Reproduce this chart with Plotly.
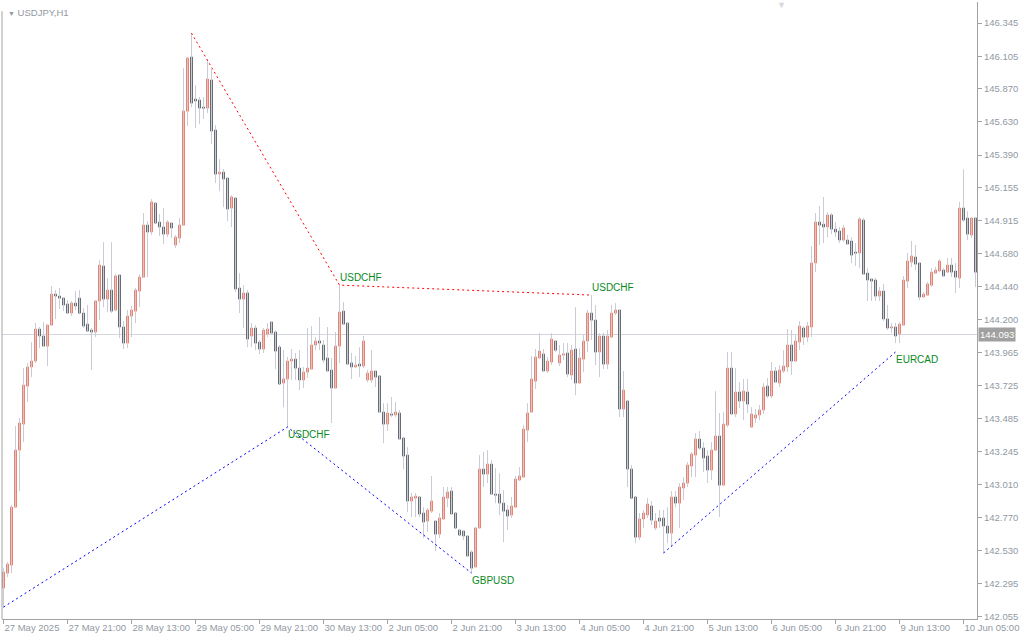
import plotly.graph_objects as go

symbol_title = "USDJPY,H1"

tick_bars = [0, 16, 32, 48, 64, 80, 96, 112, 128, 144, 160, 176, 192, 208, 224, 240]
tick_labels = ["27 May 2025", "27 May 21:00", "28 May 13:00", "29 May 05:00", "29 May 21:00",
               "30 May 13:00", "2 Jun 05:00", "2 Jun 21:00", "3 Jun 13:00", "4 Jun 05:00",
               "4 Jun 21:00", "5 Jun 13:00", "6 Jun 05:00", "6 Jun 21:00", "9 Jun 13:00",
               "10 Jun 05:00"]

price_ticks = [146.345, 146.105, 145.870, 145.630, 145.390, 145.155, 144.915, 144.680, 144.440,
               144.200, 143.965, 143.725, 143.485, 143.245, 143.010, 142.770, 142.530, 142.295,
               142.055]

bid_price = 144.093

open_ = [
    142.260, 142.368, 142.426, 142.845, 143.257, 143.445, 143.720, 143.858, 143.901, 144.132,
    144.082, 144.009, 144.161, 144.385, 144.371, 144.356, 144.313, 144.248, 144.320, 144.356,
    144.248, 144.168, 144.125, 144.111, 144.335, 144.588, 144.349, 144.414, 144.270, 144.523,
    144.147, 144.031, 144.226, 144.262, 144.407, 144.508, 144.884, 144.834, 145.043, 144.906,
    144.870, 144.819, 144.899, 144.740, 144.790, 144.884, 145.708, 146.099, 145.795, 145.788,
    145.737, 145.730, 145.933, 145.571, 145.253, 145.267, 145.224, 145.007, 145.079, 144.429,
    144.349, 144.393, 144.082, 144.140, 144.038, 143.988, 144.096, 144.183, 144.111, 144.002,
    143.742, 143.771, 143.901, 143.915, 143.850, 143.764, 143.821, 143.843, 144.017, 144.046,
    144.017, 143.923, 143.836, 143.706, 144.009, 144.262, 144.176, 143.887, 143.858, 143.879,
    143.865, 143.764, 143.764, 143.829, 143.793, 143.532, 143.445, 143.518, 143.511, 143.525,
    143.344, 143.221, 142.889, 142.910, 142.918, 142.802, 142.744, 142.816, 142.744, 142.650,
    142.759, 142.910, 142.961, 142.802, 142.679, 142.672, 142.636, 142.520, 142.412, 142.694,
    143.120, 143.084, 143.156, 142.939, 142.939, 142.874, 142.824, 142.788, 142.845, 143.041,
    143.062, 143.402, 143.532, 143.756, 143.923, 143.952, 143.829, 143.894, 144.046, 143.887,
    143.944, 143.959, 143.800, 143.988, 143.742, 143.915, 144.046, 144.248, 144.197, 143.966,
    144.082, 143.879, 144.074, 144.248, 144.270, 143.554, 143.612, 143.120, 142.918, 142.628,
    142.759, 142.788, 142.853, 142.694, 142.766, 142.766, 142.708, 142.657, 142.918, 142.874,
    142.983, 143.019, 143.142, 143.221, 143.337, 143.272, 143.214, 143.113, 143.257, 143.359,
    143.004, 143.438, 143.850, 143.518, 143.677, 143.612, 143.677, 143.424, 143.489, 143.511,
    143.547, 143.720, 143.648, 143.829, 143.742, 143.829, 143.858, 144.017, 143.901, 144.038,
    144.140, 144.074, 144.147, 144.610, 144.906, 144.891, 144.870, 144.957, 144.855, 144.841,
    144.776, 144.776, 144.769, 144.689, 144.682, 144.920, 144.537, 144.494, 144.487, 144.371,
    144.407, 144.205, 144.140, 144.147, 144.096, 144.161, 144.479, 144.617, 144.653, 144.610,
    144.364, 144.378, 144.450, 144.537, 144.552, 144.559, 144.544, 144.595, 144.552, 144.501,
    145.007, 144.935, 144.812, 144.935,
]

high = [
    142.404, 142.448, 142.860, 143.431, 143.489, 143.850, 143.887, 144.038, 144.176, 144.147,
    144.183, 144.168, 144.443, 144.414, 144.429, 144.356, 144.342, 144.335, 144.407, 144.414,
    144.284, 144.306, 144.140, 144.342, 144.631, 144.761, 144.501, 144.761, 144.530, 144.530,
    144.190, 144.270, 144.299, 144.429, 144.530, 144.971, 144.913, 145.072, 145.051, 144.964,
    145.007, 144.920, 144.906, 144.812, 144.935, 146.019, 146.099, 146.272, 145.896, 145.810,
    145.810, 146.084, 146.012, 145.607, 145.361, 145.289, 145.231, 145.101, 145.079, 144.537,
    144.450, 144.414, 144.176, 144.161, 144.053, 144.140, 144.176, 144.190, 144.125, 144.017,
    143.980, 143.930, 143.988, 143.959, 143.980, 143.858, 144.140, 144.154, 144.074, 144.219,
    144.053, 144.147, 143.923, 144.111, 144.450, 144.328, 144.183, 143.959, 143.937, 144.002,
    144.082, 143.836, 143.980, 143.836, 143.793, 143.597, 143.597, 143.641, 143.605, 143.547,
    143.344, 143.279, 142.947, 142.947, 142.918, 142.845, 142.838, 143.070, 142.751, 142.802,
    142.990, 142.990, 142.990, 142.802, 142.686, 142.679, 142.643, 142.534, 142.701, 143.221,
    143.243, 143.257, 143.185, 143.127, 143.091, 142.968, 142.860, 142.918, 143.070, 143.135,
    143.438, 143.597, 143.937, 143.988, 144.103, 143.988, 143.930, 144.103, 144.053, 144.017,
    144.031, 144.031, 144.017, 144.291, 143.995, 144.089, 144.270, 144.378, 144.306, 144.103,
    144.103, 144.125, 144.306, 144.320, 144.277, 143.829, 143.612, 143.149, 142.918, 142.802,
    142.824, 142.910, 142.889, 142.802, 142.824, 142.824, 142.845, 142.961, 142.961, 143.019,
    143.062, 143.171, 143.243, 143.380, 143.395, 143.315, 143.257, 143.315, 143.684, 143.525,
    143.532, 143.966, 143.966, 143.850, 143.749, 143.771, 143.771, 143.568, 143.554, 143.583,
    143.742, 143.778, 143.894, 143.858, 143.872, 143.980, 144.132, 144.125, 144.089, 144.190,
    144.154, 144.183, 144.732, 144.971, 145.022, 145.087, 144.978, 144.971, 144.906, 144.870,
    144.884, 144.812, 144.797, 144.754, 144.942, 144.935, 144.573, 144.501, 144.501, 144.436,
    144.458, 144.306, 144.176, 144.176, 144.183, 144.516, 144.682, 144.769, 144.740, 144.617,
    144.400, 144.472, 144.573, 144.581, 144.638, 144.573, 144.646, 144.646, 144.610, 145.051,
    145.289, 144.985, 144.942, 144.942,
]

low = [
    142.122, 142.339, 142.368, 142.845, 142.961, 143.315, 143.605, 143.785, 143.887, 143.995,
    144.002, 143.865, 144.154, 144.205, 144.277, 144.262, 144.241, 144.226, 144.270, 144.248,
    144.140, 144.118, 143.836, 144.074, 144.197, 144.291, 144.255, 144.248, 144.262, 144.067,
    143.988, 143.995, 144.074, 144.176, 144.291, 144.501, 144.508, 144.812, 144.899, 144.805,
    144.747, 144.797, 144.790, 144.718, 144.754, 144.877, 145.600, 145.737, 145.586, 145.614,
    145.651, 145.694, 145.470, 145.188, 145.130, 145.014, 144.913, 144.870, 144.400, 144.248,
    144.140, 144.002, 144.002, 143.980, 143.952, 143.959, 144.074, 144.096, 143.843, 143.735,
    143.568, 143.424, 143.764, 143.764, 143.691, 143.706, 143.778, 143.836, 143.980, 143.980,
    143.887, 143.821, 143.453, 143.706, 143.887, 144.161, 143.872, 143.771, 143.850, 143.785,
    143.850, 143.749, 143.742, 143.713, 143.525, 143.308, 143.395, 143.496, 143.496, 143.330,
    143.120, 142.809, 142.773, 142.773, 142.773, 142.621, 142.665, 142.802, 142.527, 142.621,
    142.751, 142.845, 142.788, 142.694, 142.643, 142.607, 142.484, 142.368, 142.404, 142.694,
    142.990, 143.019, 142.932, 142.874, 142.788, 142.592, 142.679, 142.766, 142.845, 143.033,
    143.062, 143.315, 143.525, 143.699, 143.915, 143.821, 143.814, 143.872, 143.966, 143.865,
    143.908, 143.785, 143.764, 143.655, 143.742, 143.821, 143.966, 144.053, 143.872, 143.785,
    143.843, 143.843, 144.067, 144.234, 143.496, 143.496, 142.990, 142.910, 142.585, 142.607,
    142.694, 142.766, 142.715, 142.679, 142.694, 142.513, 142.585, 142.556, 142.845, 142.694,
    142.896, 142.990, 143.062, 143.062, 143.257, 143.098, 143.019, 143.041, 143.250, 142.773,
    143.004, 143.424, 143.511, 143.496, 143.561, 143.474, 143.525, 143.417, 143.453, 143.474,
    143.518, 143.633, 143.633, 143.742, 143.713, 143.814, 143.821, 143.800, 143.894, 143.980,
    144.017, 144.038, 144.074, 144.544, 144.740, 144.754, 144.797, 144.819, 144.797, 144.754,
    144.761, 144.740, 144.610, 144.588, 144.573, 144.523, 144.335, 144.335, 144.335, 144.335,
    144.190, 144.125, 144.103, 144.031, 144.031, 144.154, 144.429, 144.581, 144.559, 144.342,
    144.364, 144.371, 144.436, 144.530, 144.544, 144.508, 144.537, 144.508, 144.393, 144.429,
    144.906, 144.776, 144.790, 144.436,
]

close = [
    142.375, 142.433, 142.845, 143.257, 143.453, 143.727, 143.858, 143.901, 144.132, 144.082,
    144.009, 144.161, 144.385, 144.371, 144.356, 144.306, 144.248, 144.320, 144.299, 144.248,
    144.154, 144.118, 144.111, 144.335, 144.595, 144.349, 144.414, 144.262, 144.516, 144.147,
    144.031, 144.226, 144.270, 144.414, 144.508, 144.884, 144.834, 145.051, 144.899, 144.870,
    144.819, 144.906, 144.863, 144.797, 144.884, 145.708, 146.092, 145.766, 145.781, 145.730,
    145.730, 145.940, 145.564, 145.253, 145.267, 145.217, 145.000, 145.087, 144.422, 144.349,
    144.393, 144.060, 144.140, 144.031, 143.988, 144.125, 144.132, 144.103, 143.973, 143.735,
    143.771, 143.901, 143.915, 143.850, 143.764, 143.821, 143.850, 144.017, 144.046, 144.031,
    143.908, 143.829, 143.706, 144.009, 144.255, 144.168, 143.879, 143.858, 143.872, 143.865,
    144.046, 143.814, 143.829, 143.785, 143.532, 143.445, 143.525, 143.511, 143.532, 143.337,
    143.214, 142.889, 142.918, 142.925, 142.795, 142.737, 142.824, 142.889, 142.650, 142.766,
    142.918, 142.954, 142.795, 142.694, 142.643, 142.636, 142.491, 142.404, 142.694, 143.120,
    143.084, 143.156, 142.939, 142.932, 142.874, 142.816, 142.780, 142.853, 143.048, 143.070,
    143.409, 143.525, 143.771, 143.930, 143.973, 143.829, 143.901, 144.060, 143.980, 143.944,
    143.952, 143.807, 143.980, 143.742, 143.923, 144.046, 144.248, 144.197, 143.966, 144.082,
    143.879, 144.082, 144.248, 144.270, 143.554, 143.691, 143.120, 142.910, 142.628, 142.759,
    142.802, 142.867, 142.751, 142.744, 142.744, 142.708, 142.657, 142.918, 142.874, 142.990,
    143.019, 143.149, 143.229, 143.337, 143.272, 143.200, 143.113, 143.257, 143.359, 143.004,
    143.445, 143.850, 143.518, 143.677, 143.612, 143.684, 143.590, 143.518, 143.511, 143.547,
    143.713, 143.648, 143.829, 143.749, 143.836, 143.865, 144.017, 143.901, 144.046, 144.154,
    144.074, 144.154, 144.610, 144.906, 144.884, 144.870, 144.957, 144.855, 144.834, 144.776,
    144.863, 144.747, 144.667, 144.682, 144.928, 144.530, 144.487, 144.479, 144.371, 144.407,
    144.205, 144.140, 144.147, 144.082, 144.168, 144.487, 144.624, 144.660, 144.602, 144.364,
    144.385, 144.458, 144.544, 144.559, 144.624, 144.516, 144.595, 144.544, 144.508, 145.007,
    144.920, 144.819, 144.935, 144.544,
]

# swing lines (bar index, price)
red_idx = [47, 84, 147]
red_price = [146.272, 144.450, 144.378]
blue1_idx = [0, 71, 117]
blue1_price = [142.122, 143.424, 142.368]
blue2_idx = [165, 223]
blue2_price = [142.513, 143.966]

label_idx = [84, 147, 71, 117, 223]
label_price = [144.450, 144.378, 143.424, 142.368, 143.966]
label_text = ["USDCHF", "USDCHF", "USDCHF", "GBPUSD", "EURCAD"]
label_side = ["above", "above", "below", "below", "below"]

UP = "#f0806c"
DOWN = "#676c75"
WICK = "#c9ccd5"
AXIS = "#a3a3a3"
TXT = "#9299a3"
FONT = "Liberation Sans"

bars = list(range(len(open_)))

fig = go.Figure()

# wicks
wx, wy = [], []
for i in bars:
    wx += [i, i, None]
    wy += [low[i], high[i], None]
fig.add_trace(go.Scatter(x=wx, y=wy, mode="lines", line=dict(color=WICK, width=1),
                         hoverinfo="skip", showlegend=False))

# bodies
body_hi = [max(o, c) for o, c in zip(open_, close)]
body_lo = [min(o, c) for o, c in zip(open_, close)]
fig.add_trace(go.Candlestick(
    x=bars, open=open_, high=body_hi, low=body_lo, close=close,
    increasing=dict(fillcolor=UP, line=dict(color=UP, width=1)),
    decreasing=dict(fillcolor=DOWN, line=dict(color=DOWN, width=1)),
    whiskerwidth=0, showlegend=False, hoverinfo="skip"))

# swing lines
fig.add_trace(go.Scatter(x=red_idx, y=red_price, mode="lines",
                         line=dict(color="#ff0000", width=1, dash="2px,3px"),
                         hoverinfo="skip", showlegend=False))
for xs, ys in [(blue1_idx, blue1_price), (blue2_idx, blue2_price)]:
    fig.add_trace(go.Scatter(x=xs, y=ys, mode="lines",
                             line=dict(color="#0000ff", width=1, dash="2px,3px"),
                             hoverinfo="skip", showlegend=False))

annotations = []
for i, p, t, s in zip(label_idx, label_price, label_text, label_side):
    annotations.append(dict(x=i, y=p, xref="x", yref="y", text=t, showarrow=False,
                            xanchor="left", yanchor="bottom" if s == "above" else "top",
                            xshift=-2, font=dict(family=FONT, size=10, color="#0a8a1e")))

# bid price tag
annotations.append(dict(x=1, y=bid_price, xref="paper", yref="y", text=f"{bid_price:.3f}",
                        showarrow=False, xanchor="left", yanchor="middle", xshift=1,
                        bgcolor="#a0a0a0", borderpad=1,
                        font=dict(family=FONT, size=9.5, color="#ffffff")))
# title
annotations.append(dict(x=0, y=1, xref="paper", yref="paper", xanchor="left", yanchor="top",
                        xshift=4, yshift=-3, showarrow=False,
                        text="<span style='font-size:7px'>▼</span> " + symbol_title,
                        font=dict(family=FONT, size=9.5, color=TXT)))
# chart shift marker
annotations.append(dict(x=0.799, y=1, xref="paper", yref="paper", xanchor="center",
                        yanchor="top", yshift=4, showarrow=False, text="▼",
                        font=dict(family=FONT, size=9, color="#d6d8dc")))

shapes = [
    dict(type="line", xref="paper", yref="y", x0=0, x1=1, y0=bid_price, y1=bid_price,
         line=dict(color="#d3d6dc", width=1), layer="below"),
    dict(type="line", xref="paper", yref="paper", x0=0, x1=0, y0=0, y1=0.985,
         line=dict(color=AXIS, width=1)),
]

fig.update_layout(
    width=1024, height=640,
    margin=dict(l=2, r=47, t=2, b=21, autoexpand=False),
    paper_bgcolor="#ffffff", plot_bgcolor="#ffffff",
    showlegend=False, hovermode=False,
    boxgap=0.5, boxgroupgap=0,
    annotations=annotations, shapes=shapes,
    xaxis=dict(range=[-0.375, 243.375], showgrid=False, zeroline=False,
               showline=True, linecolor=AXIS, linewidth=1,
               ticks="outside", ticklen=4, tickcolor=AXIS,
               tickvals=tick_bars, ticktext=tick_labels, tickangle=0,
               ticklabelposition="outside right", automargin=False,
               tickfont=dict(family=FONT, size=9.5, color=TXT),
               rangeslider=dict(visible=False), fixedrange=True),
    yaxis=dict(range=[142.036, 146.497], side="right", showgrid=False, zeroline=False,
               showline=True, linecolor=AXIS, linewidth=1, automargin=False,
               ticks="outside", ticklen=4, tickcolor=AXIS,
               tickvals=price_ticks, ticktext=[f"{v:.3f}" for v in price_ticks],
               tickfont=dict(family=FONT, size=9.5, color=TXT), fixedrange=True),
)

fig.write_html("out.html", config={"displayModeBar": False},
               post_script="document.body.style.margin='0';document.body.style.padding='0';")
